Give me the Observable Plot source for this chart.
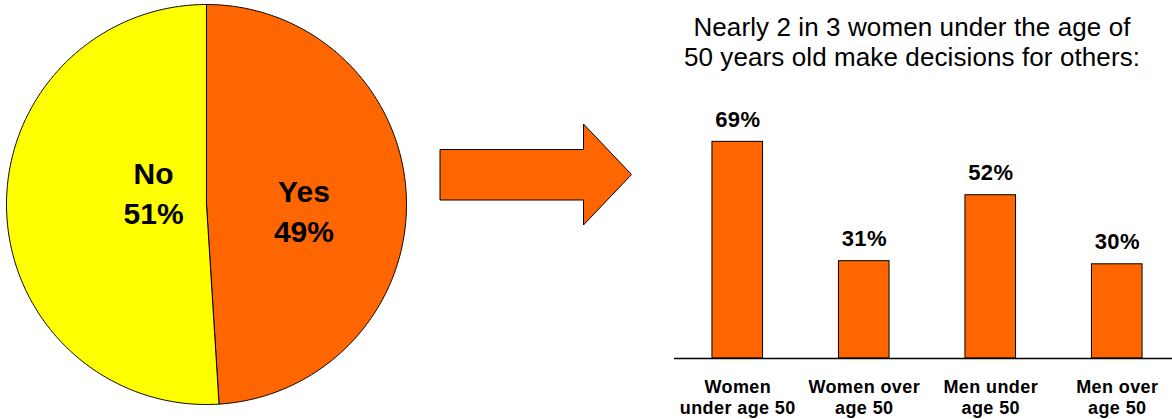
<!DOCTYPE html>
<html>
<head>
<meta charset="utf-8">
<script src="https://cdn.jsdelivr.net/npm/d3@7"></script>
<script src="https://cdn.jsdelivr.net/npm/@observablehq/plot@0.6"></script>
<style>
  html, body { margin: 0; padding: 0; background: #fff; }
  #chart {
    position: relative; width: 1172px; height: 419px; overflow: hidden;
    font-family: "Liberation Sans", Arial, Helvetica, sans-serif; color: #000;
  }
  #chart > * { position: absolute; }
  #pie { left: 0; top: 0; width: 412px; }
  #arrow { left: 436px; top: 120px; }
  #title {
    left: 652px; top: 12px; width: 520px; text-align: center;
    font-size: 26px; line-height: 30px; letter-spacing: 0.1px;
  }
  #bars { left: 660px; top: 0; width: 520px; }
  #chart svg { max-width: none !important; }
  #bars g[aria-label="x-axis tick label"] text { letter-spacing: 0.4px; }
  #bars g[aria-label="text"] text { letter-spacing: 0.4px; }
</style>
</head>
<body>
<div id="chart">
  <div id="pie"></div>
  <svg id="arrow" width="200" height="110" viewBox="436 120 200 110">
    <polygon points="440,149.5 583.5,149.5 583.5,124 631.5,174.5 583.5,225 583.5,200 440,200"
             fill="#FF6600" stroke="#000" stroke-width="1" stroke-linejoin="miter"/>
  </svg>
  <div id="title">Nearly 2 in 3 women under the age of<br>50 years old make decisions for others:</div>
  <div id="bars"></div>
</div>
<script>
// Share of respondents who make decisions for others
const answers = ["Yes", "No"];
const answerShares = [49, 51];

// Breakdown by sex and age
const groups = ["Women\nunder age 50", "Women over\nage 50", "Men under\nage 50", "Men over\nage 50"];
const groupShares = [69, 31, 52, 30];

const fontFamily = '"Liberation Sans", Arial, Helvetica, sans-serif';
const orange = "#FF6600";
const yellow = "#FFFF00";

// ---- Pie: slices built as closed polygons in unit-circle coordinates ----
const total = d3.sum(answerShares);
const slicePoints = [];
const sliceMid = {};
let acc = 0;
answers.forEach((answer, i) => {
  const a0 = (acc / total) * 2 * Math.PI;
  acc += answerShares[i];
  const a1 = (acc / total) * 2 * Math.PI;
  sliceMid[answer] = (a0 + a1) / 2;
  const steps = Math.max(2, Math.ceil((a1 - a0) / (Math.PI / 360)));
  slicePoints.push({answer, x: 0, y: 0});
  for (let k = 0; k <= steps; k++) {
    const t = a0 + ((a1 - a0) * k) / steps;
    // angle measured clockwise from 12 o'clock
    slicePoints.push({answer, x: Math.sin(t), y: Math.cos(t)});
  }
  slicePoints.push({answer, x: 0, y: 0});
});

// label placement along each slice's middle direction
const labelPlacement = {Yes: {r: 0.4875, dy: 8}, No: {r: 0.265, dy: -15}};
const pieLabels = answers.map((answer, i) => {
  const m = sliceMid[answer];
  const r = labelPlacement[answer].r;
  return {answer, share: answerShares[i], x: r * Math.sin(m), y: r * Math.cos(m)};
});

const pie = Plot.plot({
  width: 412,
  height: 410,
  marginTop: 4,
  marginBottom: 6,
  marginLeft: 6,
  marginRight: 6,
  x: {domain: [-1, 1], axis: null},
  y: {domain: [-1, 1], axis: null},
  color: {domain: answers, range: [orange, yellow]},
  style: {fontFamily, background: "transparent", overflow: "visible"},
  marks: [
    Plot.line(slicePoints, {
      x: "x", y: "y", z: "answer", fill: "answer",
      stroke: "#000", strokeWidth: 1, curve: "linear", strokeLinejoin: "round"
    }),
    ...answers.map((answer) =>
      Plot.text(pieLabels.filter((d) => d.answer === answer), {
        x: "x", y: "y",
        text: (d) => `${d.answer}\n${d.share}%`,
        fontSize: 30, fontWeight: "bold", lineHeight: 1.32,
        dy: labelPlacement[answer].dy, fill: "#000"
      })
    )
  ]
});
document.getElementById("pie").appendChild(pie);

// ---- Bars ----
const rows = groups.map((group, i) => ({group, value: groupShares[i]}));

const bars = Plot.plot({
  width: 520,
  height: 419,
  marginTop: 44,
  marginBottom: 61,
  marginLeft: 14,
  marginRight: 0,
  x: {domain: groups, paddingInner: 0.6, paddingOuter: 0.3, round: false, axis: null},
  y: {domain: [0, 100], axis: null},
  style: {fontFamily, background: "transparent", overflow: "visible"},
  marks: [
    Plot.barY(rows, {x: "group", y: "value", fill: orange, stroke: "#000", strokeWidth: 1}),
    Plot.ruleY([0], {stroke: "#000", strokeWidth: 1.5}),
    Plot.text(rows, {
      x: "group", y: "value", text: (d) => `${d.value}%`,
      dy: -22, fontSize: 22, fontWeight: "bold", fill: "#000"
    }),
    Plot.axisX({
      tickSize: 0, tickPadding: 19, fontSize: 18, fontWeight: "bold",
      lineHeight: 1.2, fill: "#000", label: null
    })
  ]
});
document.getElementById("bars").appendChild(bars);
</script>
</body>
</html>
